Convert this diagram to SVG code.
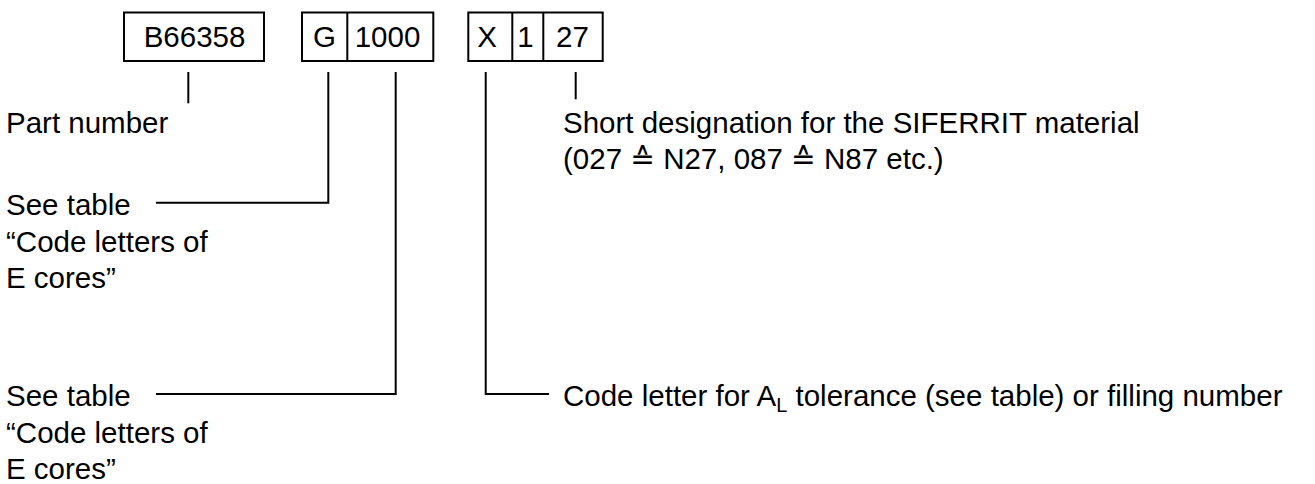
<svg xmlns="http://www.w3.org/2000/svg" width="1315" height="484" viewBox="0 0 1315 484">
<style>
text{font-family:"Liberation Sans",Arial,"DejaVu Sans",sans-serif;font-size:29.5px;fill:#000}
.c{text-anchor:middle}
.box{fill:#fff;stroke:#000;stroke-width:2}
.ln{fill:none;stroke:#000;stroke-width:2}
</style>
<rect width="1315" height="484" fill="#fff"/>
<g id="part">
<rect class="box" x="124" y="12.5" width="140" height="48.5"/>
<text class="c" x="194.5" y="46.7">B66358</text>
</g>
<g id="core">
<rect class="box" x="302" y="12.5" width="131.3" height="48.5"/>
<line class="ln" x1="347.3" y1="12.5" x2="347.3" y2="61"/>
<text class="c" x="324.5" y="46.7">G</text>
<text class="c" x="387.5" y="46.7">1000</text>
</g>
<g id="material">
<rect class="box" x="468.3" y="12.5" width="134.4" height="48.5"/>
<line class="ln" x1="512.3" y1="12.5" x2="512.3" y2="61"/>
<line class="ln" x1="543.3" y1="12.5" x2="543.3" y2="61"/>
<text class="c" x="487" y="46.7">X</text>
<text class="c" x="525.5" y="46.7">1</text>
<text class="c" x="572.5" y="46.7">27</text>
</g>
<g id="connectors">
<path class="ln" d="M188.3 72V103.3"/>
<path class="ln" d="M328.3 72V202.7H156"/>
<path class="ln" d="M395.7 72V394H156"/>
<path class="ln" d="M485.7 72V394H549"/>
<path class="ln" d="M575.7 72V99.3"/>
</g>
<g id="label-part">
<text x="6" y="133.4">Part number</text>
</g>
<g id="label-material">
<text x="563" y="133.4">Short designation for the SIFERRIT material</text>
<text x="563" y="169">(027 ≙ N27, 087 ≙ N87 etc.)</text>
</g>
<g id="label-G">
<text x="6" y="215">See table</text>
<text x="6" y="251.7">“Code letters of</text>
<text x="6" y="288.4">E cores”</text>
</g>
<g id="label-1000">
<text x="6" y="406">See table</text>
<text x="6" y="442.7">“Code letters of</text>
<text x="6" y="479.4">E cores”</text>
</g>
<g id="label-X">
<text x="563" y="406">Code letter for A<tspan font-size="20" dy="6">L</tspan><tspan dy="-6"> tolerance (see table) or filling number</tspan></text>
</g>
</svg>
